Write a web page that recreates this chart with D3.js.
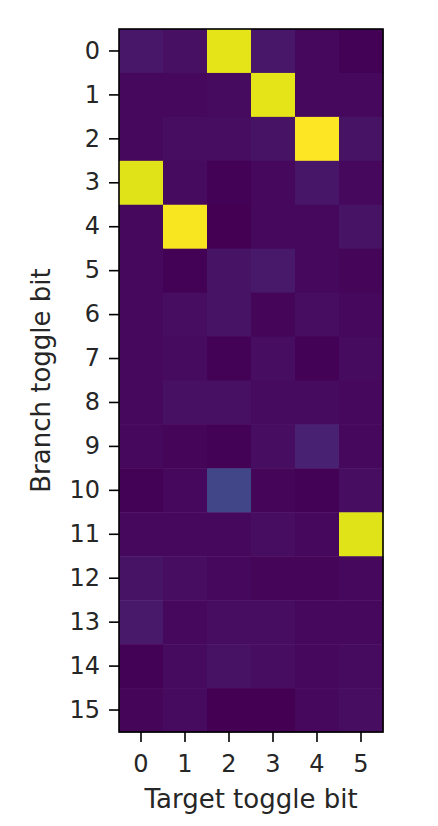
<!DOCTYPE html>
<html>
<head>
<meta charset="utf-8">
<script src="https://cdn.jsdelivr.net/npm/d3@7"></script>
<style>
  html, body { margin: 0; padding: 0; background: #fff; }
  svg { display: block; }
  text { font-family: "DejaVu Sans", sans-serif; fill: #262626; }
</style>
</head>
<body>
<svg id="chart" width="438" height="826"></svg>
<script>
// Data
const targetBits = [0, 1, 2, 3, 4, 5];
const branchBits = [0, 1, 2, 3, 4, 5, 6, 7, 8, 9, 10, 11, 12, 13, 14, 15];
const row0  = [0.060, 0.040, 0.960, 0.060, 0.020, 0.005];
const row1  = [0.020, 0.020, 0.030, 0.960, 0.020, 0.020];
const row2  = [0.020, 0.035, 0.035, 0.050, 1.000, 0.050];
const row3  = [0.950, 0.030, 0.005, 0.020, 0.055, 0.020];
const row4  = [0.020, 0.990, 0.000, 0.020, 0.020, 0.050];
const row5  = [0.020, 0.005, 0.050, 0.065, 0.020, 0.015];
const row6  = [0.020, 0.035, 0.050, 0.015, 0.035, 0.020];
const row7  = [0.020, 0.030, 0.005, 0.035, 0.005, 0.030];
const row8  = [0.020, 0.040, 0.040, 0.030, 0.030, 0.020];
const row9  = [0.020, 0.015, 0.005, 0.035, 0.090, 0.020];
const row10 = [0.005, 0.020, 0.210, 0.015, 0.005, 0.035];
const row11 = [0.020, 0.020, 0.020, 0.035, 0.020, 0.950];
const row12 = [0.050, 0.035, 0.020, 0.015, 0.015, 0.020];
const row13 = [0.065, 0.020, 0.035, 0.035, 0.020, 0.020];
const row14 = [0.005, 0.030, 0.045, 0.035, 0.020, 0.030];
const row15 = [0.015, 0.030, 0.000, 0.000, 0.020, 0.035];
const values = [row0, row1, row2, row3, row4, row5, row6, row7, row8, row9, row10, row11, row12, row13, row14, row15];
const xLabel = "Target toggle bit";
const yLabel = "Branch toggle bit";

const cells = [];
values.forEach((row, i) => row.forEach((v, j) => cells.push({ r: branchBits[i], c: targetBits[j], v })));

const margin = { left: 119, top: 29, right: 55, bottom: 94 };
const W = 438, H = 826;
const svg = d3.select("#chart");
const g = svg.append("g").attr("transform", `translate(${margin.left},${margin.top})`);
const iw = W - margin.left - margin.right;
const ih = H - margin.top - margin.bottom;

const x = d3.scaleBand().domain(targetBits).range([0, iw]).padding(0);
const y = d3.scaleBand().domain(branchBits).range([0, ih]).padding(0);
const vmin = d3.min(cells, d => d.v), vmax = d3.max(cells, d => d.v);
const color = d3.scaleSequential(d3.interpolateViridis).domain([vmin, vmax]);

g.selectAll("rect.cell").data(cells).join("rect")
  .attr("class", "cell")
  .attr("x", d => x(d.c))
  .attr("y", d => y(d.r))
  .attr("width", x.bandwidth() + 0.5)
  .attr("height", y.bandwidth() + 0.5)
  .attr("fill", d => color(d.v));

g.append("rect").attr("x", 0).attr("y", 0).attr("width", iw).attr("height", ih)
  .attr("fill", "none").attr("stroke", "#000").attr("stroke-width", 1.6);

const fs = 24;
const xAxis = g.append("g").attr("transform", `translate(0,${ih})`)
  .call(d3.axisBottom(x).tickSize(10).tickPadding(13));
const yAxis = g.append("g")
  .call(d3.axisLeft(y).tickSize(10).tickPadding(9));
[xAxis, yAxis].forEach(a => {
  a.select(".domain").remove();
  a.selectAll(".tick line").attr("stroke", "#000").attr("stroke-width", 1.6);
  a.selectAll(".tick text").style("font-size", fs + "px").style("font-family", "DejaVu Sans").attr("fill", "#262626");
});

svg.append("text")
  .attr("x", margin.left + iw / 2).attr("y", 808)
  .attr("text-anchor", "middle").style("font-size", "26px")
  .text(xLabel);

svg.append("text")
  .attr("transform", `translate(50,${margin.top + ih / 2}) rotate(-90)`)
  .attr("text-anchor", "middle").style("font-size", "26px")
  .text(yLabel);
</script>
</body>
</html>
